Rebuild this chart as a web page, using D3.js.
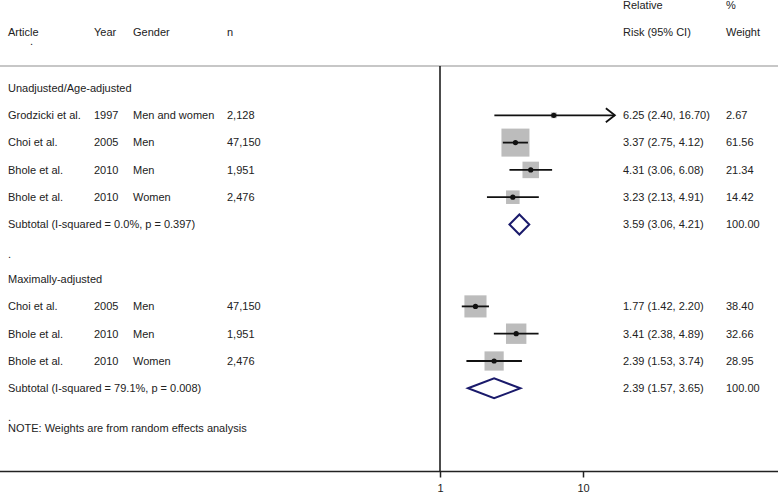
<!DOCTYPE html>
<html>
<head>
<meta charset="utf-8">
<script src="https://cdn.jsdelivr.net/npm/d3@7"></script>
<style>
  body { margin: 0; background: #fff; }
  text { font-family: "Liberation Sans", Arial, sans-serif; font-size: 11px; fill: #222; }
</style>
</head>
<body>
<div id="container"></div>
<script>
const width = 778,
  height = 494

// DATA (row index -> content)
const studyRows = [1, 2, 3, 4, 8, 9, 10]
const articles = ["Grodzicki et al.", "Choi et al.", "Bhole et al.", "Bhole et al.", "Choi et al.", "Bhole et al.", "Bhole et al."]
const years = ["1997", "2005", "2010", "2010", "2005", "2010", "2010"]
const genders = ["Men and women", "Men", "Men", "Women", "Men", "Men", "Women"]
const ns = ["2,128", "47,150", "1,951", "2,476", "47,150", "1,951", "2,476"]
const rr = [6.25, 3.37, 4.31, 3.23, 1.77, 3.41, 2.39]
const lower = [2.40, 2.75, 3.06, 2.13, 1.42, 2.38, 1.53]
const upper = [16.70, 4.12, 6.08, 4.91, 2.20, 4.89, 3.74]
const weights = [2.67, 61.56, 21.34, 14.42, 38.40, 32.66, 28.95]

const subRows = [5, 11]
const subLabels = ["Subtotal  (I-squared = 0.0%, p = 0.397)", "Subtotal  (I-squared = 79.1%, p = 0.008)"]
const subRR = [3.59, 2.39]
const subLower = [3.06, 1.57]
const subUpper = [4.21, 3.65]

const groupRows = [0, 7]
const groupLabels = ["Unadjusted/Age-adjusted", "Maximally-adjusted"]
const blankRows = [6, 12]
const note = "NOTE: Weights are from random effects analysis"
const ticks = [1, 10]
const arrowMax = 16.70 // CI clipped here with an arrow

// SCALES
const x = d3.scaleLog().domain([1, 10]).range([440, 583])
const y = d3.scaleLinear().domain([0, 12]).range([88, 415.6])
const boxSize = d3.scaleSqrt().domain([0, 61.56]).range([0, 28])

const colX = { article: 8, year: 94, gender: 133, n: 227, rr: 623, wt: 726 }

const svg = d3.select("#container")
  .append("svg")
  .attr("width", width)
  .attr("height", height)

// header
const head = [
  { t: "Article", x: colX.article, y: 32 },
  { t: "Year", x: colX.year, y: 32 },
  { t: "Gender", x: colX.gender, y: 32 },
  { t: "n", x: colX.n, y: 32 },
  { t: "Relative", x: colX.rr, y: 5 },
  { t: "Risk (95% CI)", x: colX.rr, y: 32 },
  { t: "%", x: colX.wt, y: 5 },
  { t: "Weight", x: colX.wt, y: 32 },
  { t: ".", x: 30, y: 41 }
]
svg.selectAll(".head")
  .data(head)
  .join("text")
  .attr("class", "head")
  .attr("x", d => d.x)
  .attr("y", d => d.y)
  .attr("dy", "0.35em")
  .text(d => d.t)

svg.append("line")
  .attr("x1", 0).attr("x2", width)
  .attr("y1", 66).attr("y2", 66)
  .attr("stroke", "#b5b5b5")
  .attr("stroke-width", 1.5)

// null line
svg.append("line")
  .attr("x1", x(1)).attr("x2", x(1))
  .attr("y1", 66).attr("y2", 471.5)
  .attr("stroke", "#111")
  .attr("stroke-width", 1.5)

// group labels and blanks
svg.selectAll(".group")
  .data(groupRows)
  .join("text")
  .attr("x", colX.article)
  .attr("y", d => y(d))
  .attr("dy", "0.35em")
  .text((d, i) => groupLabels[i])

svg.selectAll(".blank")
  .data(blankRows)
  .join("text")
  .attr("x", colX.article)
  .attr("y", d => y(d) + 2)
  .attr("dy", "0.35em")
  .text(".")

svg.append("text")
  .attr("x", colX.article)
  .attr("y", y(12.45))
  .attr("dy", "0.35em")
  .text(note)

// study rows
const studies = studyRows.map((r, i) => ({
  row: r, article: articles[i], year: years[i], gender: genders[i], n: ns[i],
  rr: rr[i], lo: lower[i], hi: upper[i], w: weights[i]
}))

const g = svg.selectAll(".study")
  .data(studies)
  .join("g")
  .attr("class", "study")
  .attr("transform", d => `translate(0,${y(d.row)})`)

g.append("text").attr("x", colX.article).attr("dy", "0.35em").text(d => d.article)
g.append("text").attr("x", colX.year).attr("dy", "0.35em").text(d => d.year)
g.append("text").attr("x", colX.gender).attr("dy", "0.35em").text(d => d.gender)
g.append("text").attr("x", colX.n).attr("dy", "0.35em").text(d => d.n)
g.append("text").attr("x", colX.rr).attr("dy", "0.35em")
  .text(d => `${d.rr.toFixed(2)} (${d.lo.toFixed(2)}, ${d.hi.toFixed(2)})`)
g.append("text").attr("x", colX.wt).attr("dy", "0.35em").text(d => d.w.toFixed(2))

g.append("rect")
  .attr("x", d => x(d.rr) - boxSize(d.w) / 2)
  .attr("y", d => -boxSize(d.w) / 2)
  .attr("width", d => boxSize(d.w))
  .attr("height", d => boxSize(d.w))
  .attr("fill", "#bcbcbc")

g.append("line")
  .attr("x1", d => x(d.lo))
  .attr("x2", d => x(Math.min(d.hi, arrowMax)))
  .attr("stroke", "#111")
  .attr("stroke-width", 1.8)

g.filter(d => d.hi >= arrowMax)
  .append("path")
  .attr("d", d => `M${x(arrowMax) - 9},-7 L${x(arrowMax)},0 L${x(arrowMax) - 9},7`)
  .attr("fill", "none")
  .attr("stroke", "#111")
  .attr("stroke-width", 1.8)

g.append("circle")
  .attr("cx", d => x(d.rr))
  .attr("r", 2.6)
  .attr("fill", "#111")

// subtotals
const subs = subRows.map((r, i) => ({ row: r, label: subLabels[i], rr: subRR[i], lo: subLower[i], hi: subUpper[i] }))
const sg = svg.selectAll(".sub")
  .data(subs)
  .join("g")
  .attr("class", "sub")
  .attr("transform", d => `translate(0,${y(d.row)})`)

sg.append("text").attr("x", colX.article).attr("dy", "0.35em").text(d => d.label)
sg.append("text").attr("x", colX.rr).attr("dy", "0.35em")
  .text(d => `${d.rr.toFixed(2)} (${d.lo.toFixed(2)}, ${d.hi.toFixed(2)})`)
sg.append("text").attr("x", colX.wt).attr("dy", "0.35em").text("100.00")
sg.append("path")
  .attr("d", d => `M${x(d.lo)},0 L${x(d.rr)},-10 L${x(d.hi)},0 L${x(d.rr)},10 Z`)
  .attr("fill", "#fff")
  .attr("stroke", "#1a1a6b")
  .attr("stroke-width", 2)

// AXIS
svg.append("line")
  .attr("x1", 0).attr("x2", width)
  .attr("y1", 471.5).attr("y2", 471.5)
  .attr("stroke", "#222")
  .attr("stroke-width", 1.5)

const xAxis = d3.axisBottom(x).tickValues(ticks).tickFormat(d3.format("d")).tickSize(6)
const ax = svg.append("g")
  .attr("transform", "translate(0,471.5)")
  .call(xAxis)
ax.select(".domain").remove()
ax.selectAll(".tick line").attr("stroke", "#222").attr("stroke-width", 1.5)
ax.selectAll(".tick text")
  .attr("y", 13)
  .style("font-family", "Liberation Sans, Arial, sans-serif")
  .style("font-size", "11px")
  .attr("fill", "#222")
</script>
</body>
</html>
